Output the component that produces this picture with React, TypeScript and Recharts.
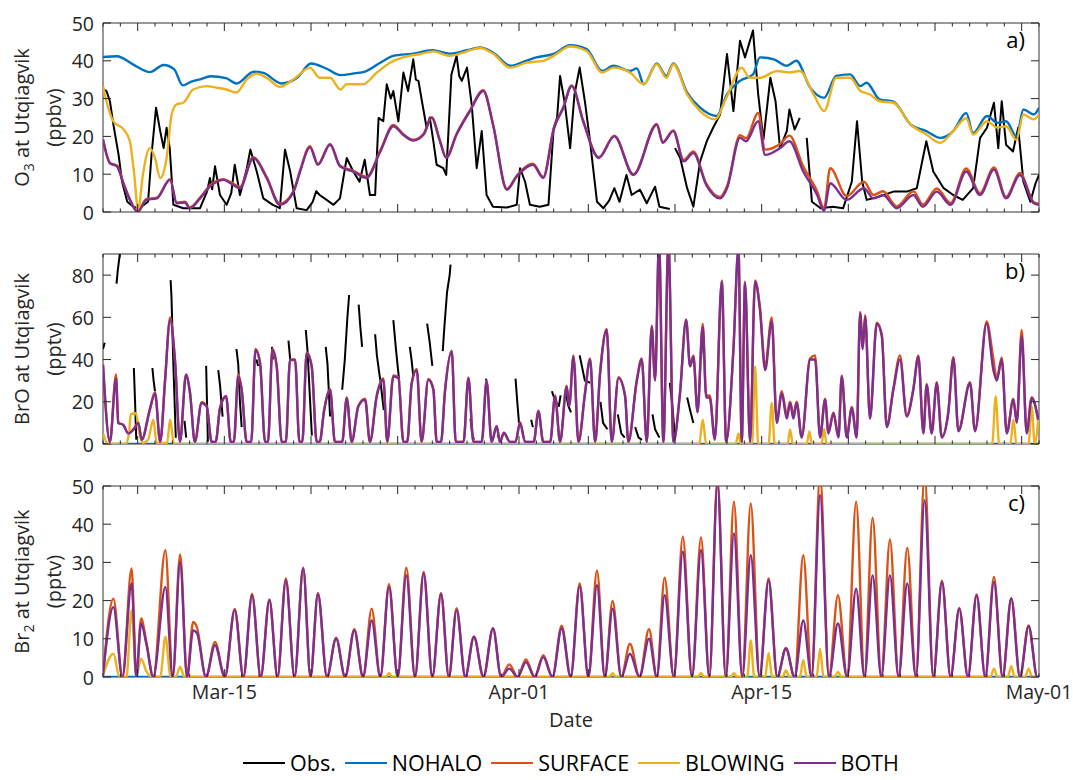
import React from 'react';
import { LineChart, Line, XAxis, YAxis, ReferenceArea } from 'recharts';

type P = [number, number | null];

// x values are day-of-March (Apr-01 = 32, May-01 = 62)

// ---------------- Panel a: O3 (ppbv) ----------------
const o3Obs: P[] = [
  [8, 32.4], [8.2, 32], [8.4, 29.3], [8.6, 23.1], [8.9, 15.1], [9.1, 8], [9.4, 2.7], [9.75, 1.4], [10.1, 1], [10.6, 2.7],
  [10.8, 15.1], [11.06, 27.6], [11.3, 21.4], [11.5, 16.9], [11.67, 22.3], [11.85, 16.9], [12.06, 1.9], [12.63, 1], [13.6, 1],
  [14, 5.4], [14.17, 9], [14.3, 6], [14.46, 12.1], [14.75, 4.5], [15.13, 1.9], [15.4, 5], [15.6, 12.5], [15.9, 4.5],
  [16.3, 11.6], [16.5, 16.5], [16.87, 10.7], [17.25, 3.6], [17.8, 1.9], [18.2, 1], [18.5, 16.5], [18.8, 10.7], [19.17, 1],
  [19.75, 0.5], [20.1, 2.7], [20.3, 5.5], [20.5, 4.5], [20.9, 3.2], [21.3, 1.9], [21.67, 3.6], [22.06, 14.3], [22.44, 10.7],
  [22.8, 8], [23.1, 13.8], [23.4, 4.5], [23.7, 4.5], [23.9, 24.9], [24.17, 24], [24.37, 33.8], [24.6, 30], [24.75, 32],
  [25.04, 24], [25.33, 36.9], [25.6, 32], [25.9, 40.4], [26.05, 35], [26.2, 34.7], [26.4, 29.3], [26.67, 22.3], [26.85, 25],
  [27.06, 18.7], [27.25, 12.5], [27.63, 11.6], [27.8, 9.8], [28.1, 36.4], [28.4, 41.3], [28.55, 36], [28.7, 34.7], [29, 38.2],
  [29.27, 28.5], [29.56, 11.6], [29.85, 21.4], [30.13, 4.5], [30.5, 1.4], [31.3, 1.2], [31.87, 1.9], [32.06, 11.6], [32.35, 8],
  [32.63, 1.9], [33.2, 1.4], [33.7, 1.9], [34, 22.3], [34.2, 25], [34.37, 36], [34.65, 28.5], [34.95, 16.9], [35.2, 31.1],
  [35.5, 38.2], [35.8, 29.3], [36.1, 18.7], [36.5, 2.7], [36.87, 1], [37.2, 3], [37.5, 6.3], [37.8, 2.7], [38.2, 9.8],
  [38.5, 4.5], [38.98, 5.9], [39.37, 2.3], [39.85, 6.7], [40.1, 1.4], [40.7, 0.8], [40.85, null], [41, 16.9], [41.3, 14.3],
  [41.7, 6.3], [42.06, 1.4], [42.45, 13.4], [42.83, 18.7], [43.2, 22.3], [43.6, 25.8], [44, 41.8], [44.37, 26.7], [44.75, 45.3],
  [45.04, 40.9], [45.5, 48], [45.8, 31.1], [46.1, 19.1], [46.5, 35.5], [46.8, 29.3], [47.06, 16.9], [47.45, 21.4], [47.6, 27.1],
  [47.9, 21.8], [48.2, 24.9], [48.4, null], [48.6, 19.6], [48.9, 2.7], [49.4, 1], [50.1, 1.4], [50.7, 1], [51.2, 8], [51.5, 24],
  [51.8, 8], [52.06, 3.2], [52.8, 4.1], [53.6, 5.4], [54.37, 5.4], [54.95, 6.3], [55.3, 14.3], [55.5, 18.7], [55.9, 10.7],
  [56.5, 6.3], [57.05, 4.5], [57.6, 3.2], [58.2, 6.3], [58.6, 19.6], [59, 22.3], [59.4, 28.9], [59.65, 16.9], [59.85, 29.3],
  [60.1, 17.8], [60.5, 16], [60.8, 22.3], [61.1, 8], [61.5, 2.7], [61.8, 7.6], [62, 9.8],
];

const o3Nohalo: P[] = [
  [8, 41], [8.8, 41.2], [9.75, 39], [10.7, 37], [11.5, 38.9], [12.1, 37.8], [12.6, 33.5], [13.1, 34.5], [13.6, 35.1], [14.2, 35.9],
  [15.1, 35.4], [15.7, 34], [16.7, 37.1], [17.25, 36.8], [18.3, 34], [19.2, 35.5], [20, 39.3], [20.9, 37.9], [21.7, 36.2],
  [22.4, 36.6], [23.2, 37.3], [24, 39.5], [24.75, 41.3], [25.9, 41.9], [27, 42.8], [28, 41.9], [29, 42.8], [29.75, 43.5],
  [30.5, 42.2], [31.5, 38.7], [32.4, 40], [33, 40.9], [34, 41.8], [34.95, 44.1], [35.9, 43.1], [36.8, 37.3], [37.45, 38.7],
  [38.4, 37.3], [38.8, 38], [39.2, 33.8], [39.95, 39.3], [40.5, 36], [40.9, 39.3], [41.7, 31.6], [42.45, 27.6], [43.4, 25.4],
  [44, 31.1], [44.75, 34.7], [45.5, 36.4], [45.9, 40.9], [46.7, 40.4], [47.45, 38.7], [48, 40], [48.8, 32.9], [49.6, 30.2],
  [50.3, 36], [51.1, 36.4], [51.7, 33.3], [52.05, 34.2], [52.8, 29.8], [53.6, 29.2], [54.6, 23.1], [55.5, 21.4], [56.3, 19.6],
  [57.05, 21.4], [57.8, 26.2], [58.2, 20.9], [59, 25.4], [59.6, 23.6], [60.1, 24], [60.7, 20], [61.1, 27.1], [61.7, 25.8], [62, 27.6],
];

const o3Blowing: P[] = [
  [8, 33.3], [8.2, 29.3], [8.6, 24], [9.2, 21.8], [9.55, 18.7], [9.8, 10], [10.03, 0.5], [10.3, 9.8], [10.7, 16.9], [11, 14.3],
  [11.3, 9], [11.67, 14.3], [11.96, 25.8], [12.25, 28.5], [12.63, 28.9], [13.2, 32.4], [14, 33.3], [14.55, 32.9], [15.13, 32.4],
  [15.7, 31.6], [16.3, 35.1], [16.87, 36.6], [17.44, 35.5], [18.2, 33.1], [19, 35.1], [19.94, 38.2], [20.5, 35.5], [21.1, 35.5],
  [21.7, 32.4], [22.06, 33.8], [23, 33.8], [23.8, 36.9], [24.56, 39.5], [25.3, 40.9], [26.3, 41.8], [27.06, 42.5], [28, 41.3],
  [29, 42.5], [29.75, 43.4], [30.5, 41.9], [31.5, 38.2], [32.44, 39.5], [33.4, 40], [34, 41.3], [34.95, 43.8], [35.9, 42.6],
  [36.8, 36.9], [37.45, 38.2], [38.4, 36.9], [39.2, 33.8], [39.95, 39.1], [40.5, 35.5], [40.9, 39.1], [41.7, 31.1], [42.45, 26.7],
  [43.3, 24.5], [44, 30.6], [44.85, 38.2], [45.3, 35.5], [45.9, 35.5], [46.9, 37.3], [47.6, 36.9], [48.2, 37.3], [49, 31.1],
  [49.6, 26.7], [50.3, 35.5], [51.1, 35.5], [51.7, 32], [52.25, 31.1], [52.8, 29.3], [53.6, 28.9], [54.6, 23.1], [55.5, 20.5],
  [56.3, 18.3], [57.05, 21.4], [57.8, 24.8], [58.2, 20.5], [59, 24], [59.6, 22.3], [60.1, 22.7], [60.7, 19.1], [61.1, 25.8],
  [61.7, 24.5], [62, 25.8],
];

const o3Both: P[] = [
  [8, 19.1], [8.4, 12.9], [8.8, 12.1], [9.2, 7.2], [9.55, 3.2], [10, 0], [10.5, 3.2], [11.1, 3.6], [11.87, 8.5], [12.25, 2.3],
  [12.73, 2.5], [13, 1], [13.6, 3.6], [14.17, 6.7], [14.94, 8.5], [15.5, 7.2], [15.9, 6.3], [16.67, 14.3], [17.44, 9], [18.2, 1.9],
  [19, 5.4], [19.37, 10.7], [19.94, 17.1], [20.4, 12.5], [21.1, 17.8], [21.67, 12.1], [22.44, 10.7], [23.2, 9], [24, 16],
  [24.75, 22.7], [25.3, 20.5], [25.9, 18.9], [26.5, 20.5], [26.96, 24.9], [27.44, 18.7], [27.8, 14.3], [28.4, 20.5], [29.17, 26.7],
  [29.94, 32], [30.5, 23.1], [31.3, 5.9], [31.87, 9.4], [32.8, 12.5], [33.4, 9], [34, 21.8], [34.56, 27.6], [35.04, 33.3],
  [35.7, 24], [36.6, 14.3], [37.5, 20], [38.6, 9.8], [39.95, 23.1], [40.3, 18.3], [40.9, 21.4], [41.5, 13.4], [42.06, 15.6],
  [42.8, 7.2], [43.6, 3.6], [44, 6.3], [44.75, 19.6], [45.1, 18.7], [45.8, 24], [46.2, 15.1], [47.06, 16.9], [47.6, 18.7],
  [48.4, 10.7], [49.2, 4.5], [49.6, 0.3], [49.95, 7.6], [50.9, 3.2], [51.9, 6.3], [52.45, 3.6], [53, 4.5], [53.8, 1],
  [54.75, 4.5], [55.3, 1.4], [56.1, 5.4], [56.9, 1.9], [57.8, 10.7], [58.6, 4.5], [59.4, 11.2], [60.1, 3.6], [60.9, 9.8],
  [61.7, 2.3], [62, 1.9],
];

const o3Surface: P[] = [
  [8, 19.3], [8.4, 13], [8.8, 12.3], [9.2, 7.4], [9.55, 3.4], [10, 0.2], [10.5, 3.4], [11.1, 3.8], [11.87, 8.7], [12.25, 2.5],
  [12.73, 2.7], [13, 1.2], [13.6, 3.8], [14.17, 7], [14.94, 8.7], [15.5, 7.5], [15.9, 6.6], [16.67, 14.5], [17.44, 9.3], [18.2, 2.2],
  [19, 5.7], [19.37, 11], [19.94, 17.4], [20.4, 12.7], [21.1, 18], [21.67, 12.3], [22.44, 10.9], [23.2, 9.3], [24, 16.3],
  [24.75, 23], [25.3, 20.7], [25.9, 19.1], [26.5, 20.7], [26.96, 25.1], [27.44, 18.9], [27.8, 14.5], [28.4, 20.7], [29.17, 26.9],
  [29.94, 32.2], [30.5, 23.3], [31.3, 6.1], [31.87, 9.6], [32.8, 12.8], [33.4, 9.3], [34, 22], [34.56, 27.8], [35.04, 33.5],
  [35.7, 24.2], [36.6, 14.5], [37.5, 20.2], [38.6, 10], [39.95, 23.3], [40.3, 18.5], [40.9, 21.6], [41.5, 13.8], [42.06, 16],
  [42.8, 7.6], [43.6, 4], [44, 6.8], [44.75, 20.3], [45.1, 19.5], [45.8, 26.2], [46.2, 16.5], [47.06, 18], [47.6, 20.2],
  [48.4, 12], [49.2, 5.5], [49.6, 1], [49.95, 11.6], [50.9, 4.2], [51.9, 8], [52.45, 4.5], [53, 5.5], [53.8, 1.5],
  [54.75, 5.5], [55.3, 2], [56.1, 6.2], [56.9, 2.4], [57.8, 11.5], [58.6, 5], [59.4, 11.8], [60.1, 4], [60.9, 10.3],
  [61.7, 2.6], [62, 2.2],
];

// ---------------- Panel b: BrO (pptv) ----------------
const broObs: P[] = [
  [8, 45], [8.1, 48], [8.15, null], [8.78, 76], [8.85, 82], [9.0, 92], [9.1, 96], [9.2, null], [9.78, 36], [9.85, 20], [9.92, 2],
  [10, null], [10.85, 36], [10.92, 30], [11.0, 25], [11.05, null], [11.9, 77.6], [11.95, 70], [12.05, 40], [12.2, 3], [12.3, null],
  [12.7, 11], [12.8, 3], [12.85, null], [13.95, 37], [14.0, 20], [14.05, 1], [14.1, null], [14.65, 35], [14.75, 28], [14.9, 13],
  [14.95, null], [15.7, 45], [15.8, 38], [15.9, 20], [16.0, 8], [16.05, null], [16.85, 40], [16.95, 37], [17.0, null], [17.75, 46],
  [17.8, 40], [17.85, null], [18.7, 49], [18.8, 40], [18.85, null], [19.7, 54], [19.8, 44], [19.95, 20], [20.05, 4], [20.1, null],
  [20.85, 46], [20.95, 38], [21.1, 13], [21.15, null], [21.8, 25.7], [21.95, 40], [22.1, 60], [22.2, 70.6], [22.25, null],
  [22.75, 66], [22.85, 55], [22.95, 46], [23.0, null], [23.7, 52], [23.8, 42], [24.0, 30], [24.2, 16], [24.25, null],
  [24.75, 58.7], [24.9, 45], [25.1, 28.8], [25.15, null], [25.7, 46], [25.8, 40], [25.9, 32], [25.95, null], [26.7, 57],
  [26.85, 48], [27.0, 37], [27.05, null], [27.6, 44], [27.7, 56], [27.85, 72], [28.0, 80], [28.05, 85], [28.1, null],
  [29.2, 12], [29.3, 5], [29.4, 2], [29.45, null], [30.1, 31], [30.15, 28], [30.2, null], [30.75, 4], [30.85, 3], [30.9, null],
  [31.8, 31], [31.9, 20], [32.0, 10], [32.05, null], [32.7, 11.5], [32.8, 8], [32.85, null], [33.9, 25], [34.1, 20], [34.3, 18],
  [34.4, 23], [34.45, null], [34.7, 24], [34.85, 18], [35.0, 15], [35.05, null], [35.5, 42], [35.6, 38], [35.8, 30], [36.1, 29],
  [36.15, null], [36.7, 20], [36.85, 10], [37.1, 7], [37.15, null], [37.7, 14], [37.9, 5], [38.1, 3], [38.15, null], [38.7, 8],
  [38.9, 3], [39.1, 2], [39.15, null], [39.7, 14], [39.85, 7], [40.1, 3], [40.15, null], [40.7, 29], [40.85, 18], [41.0, 3],
  [41.05, null], [41.7, 22], [41.9, 15], [42.06, 10], [42.1, null], [42.5, 40], [42.6, 52],
];

const broNohalo: P[] = [[8, 0], [62, 0]];

const broBoth: P[] = [
  [8, 37.5], [8.4, 1], [8.75, 31.2], [8.88, 10], [9.17, 9], [9.46, 5], [9.75, 6.8], [10.04, 10], [10.23, 2], [10.7, 16], [11, 24],
  [11.3, 1], [11.58, 30], [11.87, 58.7], [12.15, 40], [12.44, 1], [12.79, 32.8], [13.02, 24], [13.3, 1], [13.69, 19.4], [13.98, 17.8],
  [14.27, 1], [14.5, 1], [14.75, 17], [15.1, 22.5], [15.37, 1], [15.55, 1], [15.8, 32], [16, 25.7], [16.29, 1], [16.55, 1],
  [16.8, 44.6], [17.06, 38.3], [17.35, 1], [17.52, 1], [17.77, 44.6], [18.02, 36.7], [18.31, 1], [18.55, 1], [18.79, 39.8],
  [19.08, 39.8], [19.33, 1], [19.5, 1], [19.75, 43], [20.04, 36.7], [20.33, 1], [20.5, 1], [20.75, 15.4], [21.1, 25.7], [21.38, 1],
  [21.8, 1], [22.06, 21.7], [22.35, 1], [22.73, 17.8], [23.12, 21], [23.4, 1], [23.79, 22.5], [24.17, 30.4], [24.4, 1], [24.75, 32],
  [25.04, 31.2], [25.33, 1], [25.55, 1], [25.81, 28.8], [26.1, 35], [26.38, 1], [26.77, 30.4], [27.06, 25.7], [27.25, 1], [27.5, 1],
  [27.73, 24.9], [28.12, 43.8], [28.35, 1], [28.8, 1], [29.08, 31.2], [29.37, 1], [29.85, 1], [30.13, 29.6], [30.42, 1], [30.71, 8.3],
  [30.9, 1], [31.13, 5.2], [31.48, 1], [31.8, 1], [32.06, 10], [32.35, 1], [32.85, 1], [33.12, 15.4], [33.4, 1], [33.8, 1],
  [34.08, 22.5], [34.37, 1], [34.75, 27.2], [34.9, 18], [35.14, 41.4], [35.43, 1], [35.81, 24], [36.1, 40], [36.39, 1], [36.68, 33.5],
  [37.06, 54], [37.35, 1], [37.74, 31.2], [38.12, 22.5], [38.31, 1], [38.79, 29.6], [39.08, 40], [39.37, 1], [39.66, 55.6], [39.85, 30],
  [40.08, 95], [40.33, 1], [40.62, 95], [40.91, 1], [41.29, 24], [41.64, 58.7], [41.87, 36.7], [42.06, 41.4], [42.3, 15], [42.6, 55.6],
  [42.8, 22], [43.0, 22], [43.3, 2], [43.7, 76.9], [43.95, 1], [44.37, 44.6], [44.66, 92], [44.85, 1], [45.04, 76], [45.33, 1],
  [45.62, 76.9], [45.9, 63.5], [46.2, 35], [46.58, 58], [46.87, 10], [47.16, 24], [47.45, 12], [47.64, 19.4], [47.83, 12], [48.02, 19.4],
  [48.31, 3], [48.79, 40], [49.08, 40], [49.37, 3], [49.66, 21], [49.85, 5], [50.14, 14.6], [50.43, 3], [50.62, 32], [50.91, 3],
  [51.2, 17], [51.48, 3], [51.68, 62], [51.83, 45], [51.97, 60.3], [52.25, 12], [52.64, 57], [52.93, 51], [53.22, 8], [53.6, 25.7],
  [53.98, 40], [54.37, 13], [54.75, 25.7], [55.04, 41.4], [55.33, 5], [55.52, 28], [55.81, 5], [56.1, 28.8], [56.39, 3], [56.77, 15],
  [57.06, 40.6], [57.35, 6], [58.02, 28.8], [58.31, 6], [58.98, 57], [59.37, 35], [59.56, 30], [59.85, 40], [60.14, 5], [60.52, 21],
  [60.72, 10], [61.0, 51], [61.29, 5], [61.58, 21.7], [61.97, 11.5],
];

const broSurface: P[] = [
  [8, 37.5], [8.4, 1], [8.75, 33], [8.88, 10], [9.17, 9], [9.46, 5], [9.75, 6.8], [10.04, 10], [10.23, 2], [10.7, 16.5], [11, 24.5],
  [11.3, 1], [11.58, 30], [11.87, 60], [12.15, 40], [12.44, 1], [12.79, 33], [13.02, 24.5], [13.3, 1], [13.69, 19.8], [13.98, 18],
  [14.27, 1], [14.5, 1], [14.75, 17.2], [15.1, 22.8], [15.37, 1], [15.55, 1], [15.8, 33], [16, 26], [16.29, 1], [16.55, 1],
  [16.8, 45], [17.06, 38.5], [17.35, 1], [17.52, 1], [17.77, 45], [18.02, 37], [18.31, 1], [18.55, 1], [18.79, 40],
  [19.08, 40], [19.33, 1], [19.5, 1], [19.75, 43.5], [20.04, 37], [20.33, 1], [20.5, 1], [20.75, 15.8], [21.1, 26], [21.38, 1],
  [21.8, 1], [22.06, 22], [22.35, 1], [22.73, 18], [23.12, 21.5], [23.4, 1], [23.79, 23], [24.17, 31], [24.4, 1], [24.75, 32.5],
  [25.04, 31.5], [25.33, 1], [25.55, 1], [25.81, 29], [26.1, 35.5], [26.38, 1], [26.77, 30.8], [27.06, 26], [27.25, 1], [27.5, 1],
  [27.73, 25.2], [28.12, 44.2], [28.35, 1], [28.8, 1], [29.08, 31.5], [29.37, 1], [29.85, 1], [30.13, 30], [30.42, 1], [30.71, 8.5],
  [30.9, 1], [31.13, 5.4], [31.48, 1], [31.8, 1], [32.06, 10.3], [32.35, 1], [32.85, 1], [33.12, 15.8], [33.4, 1], [33.8, 1],
  [34.08, 23], [34.37, 1], [34.75, 27.6], [34.9, 18.4], [35.14, 42], [35.43, 1], [35.81, 24.4], [36.1, 40.5], [36.39, 1], [36.68, 34],
  [37.06, 54.5], [37.35, 1], [37.74, 31.6], [38.12, 23], [38.31, 1], [38.79, 30], [39.08, 40.5], [39.37, 1], [39.66, 56], [39.85, 30.5],
  [40.08, 96], [40.33, 1], [40.62, 96], [40.91, 1], [41.29, 24.5], [41.64, 59], [41.87, 37], [42.06, 42], [42.3, 15.5], [42.6, 57],
  [42.8, 23], [43.0, 23], [43.3, 2.5], [43.7, 77.5], [43.95, 1], [44.37, 45], [44.66, 93], [44.85, 1], [45.04, 77], [45.33, 1],
  [45.62, 77.5], [45.9, 65], [46.2, 37], [46.58, 60], [46.87, 11], [47.16, 25], [47.45, 14], [47.64, 20], [47.83, 14], [48.02, 20],
  [48.31, 3.5], [48.79, 40.5], [49.08, 42], [49.37, 3.5], [49.66, 21.5], [49.85, 5.5], [50.14, 15], [50.43, 3.5], [50.62, 32.5], [50.91, 3.5],
  [51.2, 17.5], [51.48, 3.5], [51.68, 62.5], [51.83, 46], [51.97, 61], [52.25, 12.5], [52.64, 57.5], [52.93, 52], [53.22, 8.5], [53.6, 26.5],
  [53.98, 42], [54.37, 13.5], [54.75, 26.2], [55.04, 42], [55.33, 5.5], [55.52, 28.5], [55.81, 5.5], [56.1, 29.3], [56.39, 3.5], [56.77, 15.5],
  [57.06, 41.2], [57.35, 6.5], [58.02, 29.3], [58.31, 6.5], [58.98, 58], [59.37, 40], [59.56, 31], [59.85, 41], [60.14, 5.5], [60.52, 21.5],
  [60.72, 10.5], [61.0, 54], [61.29, 5.5], [61.58, 22.2], [61.97, 10],
];

const broBlowing: P[] = [
  [8, 5], [8.3, 0], [9.3, 0], [9.5, 5], [9.6, 14], [9.9, 14.6], [10.1, 5], [10.3, 0.5], [10.6, 2], [10.9, 11.5], [11.1, 0.5],
  [11.7, 0.5], [11.87, 11.5], [12.1, 0], [42.4, 0], [42.6, 11.5], [42.8, 0], [44.5, 0], [44.66, 5], [44.8, 0], [45.45, 0],
  [45.62, 36.7], [45.8, 0], [46.4, 0], [46.58, 19.4], [46.75, 0], [47.5, 0], [47.64, 6.8], [47.8, 0], [48.6, 0], [48.75, 6],
  [48.9, 0], [49.45, 0], [49.6, 7], [49.75, 0], [59.3, 0], [59.5, 22.5], [59.7, 0], [60.35, 0], [60.52, 11.5], [60.7, 0],
  [61.4, 0], [61.58, 17.8], [61.75, 0], [61.97, 13],
];

// ---------------- Panel c: Br2 (pptv) ----------------
const br2Nohalo: P[] = [[8, 0], [62, 0]];

const br2Both: P[] = [
  [8, 0.5], [8.6, 18.3], [9.12, 0], [9.65, 24.5], [9.92, 0], [10.2, 14], [10.5, 8.7], [10.9, 0], [11.6, 23.6], [12.02, 0],
  [12.45, 30.1], [12.85, 0], [13.2, 12.2], [13.42, 11.5], [13.94, 0], [14.46, 8.3], [15.03, 0], [15.6, 17.5], [16.1, 0],
  [16.6, 21.4], [17.1, 0], [17.6, 20.1], [18.07, 0], [18.55, 25.3], [19.05, 0], [19.55, 28.4], [19.97, 0], [20.4, 21.8],
  [20.92, 0], [21.45, 10], [21.97, 0], [22.5, 12.2], [23, 0], [23.5, 14.8], [24, 0], [24.5, 23.6], [25, 0], [25.5, 26.6],
  [26, 0], [26.5, 27.1], [27, 0], [27.5, 21.8], [27.95, 0], [28.4, 17.5], [28.9, 0], [29.4, 10.5], [29.95, 0], [30.5, 12.7],
  [30.97, 0], [31.44, 2.2], [31.92, 0], [32.4, 3.9], [32.9, 0], [33.4, 5.2], [33.93, 0], [34.46, 12.7], [34.98, 0], [35.5, 23.8],
  [36, 0], [36.5, 24], [36.95, 0], [37.4, 17.9], [37.9, 0], [38.4, 6.1], [38.95, 0], [39.5, 10], [39.95, 0], [40.4, 21.4],
  [40.93, 0], [41.45, 32.8], [41.98, 0], [42.5, 33.2], [42.98, 0], [43.45, 50.5], [43.93, 0], [44.4, 37.6], [44.88, 0],
  [45.37, 31.9], [45.88, 0], [46.4, 25.3], [46.9, 0], [47.4, 7.4], [47.9, 0], [48.4, 14.8], [48.88, 0], [49.37, 47.6], [49.88, 0],
  [50.4, 14], [50.93, 0], [51.45, 23.1], [51.93, 0], [52.4, 26.6], [52.9, 0], [53.4, 26.6], [53.9, 0], [54.4, 24.5], [54.9, 0],
  [55.4, 46.3], [55.9, 0], [56.4, 24.9], [56.9, 0], [57.4, 17.9], [57.9, 0], [58.4, 21.4], [58.9, 0], [59.4, 24.9], [59.9, 0],
  [60.4, 20.5], [60.9, 0], [61.4, 13.3], [61.9, 0], [62, 0],
];

const br2Surface: P[] = [
  [8, 0.5], [8.6, 20.5], [9.12, 0], [9.65, 28.4], [9.92, 0], [10.2, 15.3], [10.5, 9.2], [10.9, 0], [11.6, 33.2], [12.02, 0],
  [12.45, 32.1], [12.85, 0], [13.2, 14.4], [13.42, 13], [13.94, 0], [14.46, 9.2], [15.03, 0], [15.6, 17.8], [16.1, 0],
  [16.6, 21.8], [17.1, 0], [17.6, 20.3], [18.07, 0], [18.55, 25.8], [19.05, 0], [19.55, 28.6], [19.97, 0], [20.4, 22],
  [20.92, 0], [21.45, 10.3], [21.97, 0], [22.5, 12.5], [23, 0], [23.5, 17.9], [24, 0], [24.5, 24.3], [25, 0], [25.5, 28.6],
  [26, 0], [26.5, 27.5], [27, 0], [27.5, 22], [27.95, 0], [28.4, 18], [28.9, 0], [29.4, 10.6], [29.95, 0], [30.5, 12.8],
  [30.97, 0], [31.44, 3.3], [31.92, 0], [32.4, 4.6], [32.9, 0], [33.4, 5.7], [33.93, 0], [34.46, 13.4], [34.98, 0], [35.5, 24.5],
  [36, 0], [36.5, 27.8], [36.95, 0], [37.4, 19.9], [37.9, 0], [38.4, 8.7], [38.95, 0], [39.5, 12.5], [39.95, 0], [40.4, 26],
  [40.93, 0], [41.45, 36.7], [41.98, 0], [42.5, 36.5], [42.98, 0], [43.45, 52], [43.93, 0], [44.4, 45.9], [44.88, 0],
  [45.37, 45.4], [45.88, 0], [46.4, 25.8], [46.9, 0], [47.4, 7.6], [47.9, 0], [48.4, 31.9], [48.88, 0], [49.37, 53], [49.88, 0],
  [50.4, 21.4], [50.93, 0], [51.45, 45.9], [51.93, 0], [52.4, 41.7], [52.9, 0], [53.4, 36], [53.9, 0], [54.4, 33.8], [54.9, 0],
  [55.4, 53], [55.9, 0], [56.4, 25.2], [56.9, 0], [57.4, 18.1], [57.9, 0], [58.4, 21.6], [58.9, 0], [59.4, 26.2], [59.9, 0],
  [60.4, 20.7], [60.9, 0], [61.4, 13.5], [61.9, 0], [62, 0],
];

const br2Blowing: P[] = [
  [8, 0.5], [8.6, 6.1], [8.95, 0], [9.35, 0], [9.65, 17.5], [9.92, 0.3], [10.2, 4.8], [10.5, 1.5], [10.8, 0], [11.3, 0],
  [11.6, 10.5], [11.9, 0], [12.2, 0], [12.45, 2.6], [12.7, 0], [24.3, 0], [24.5, 1], [24.7, 0], [37.2, 0], [37.4, 1], [37.6, 0],
  [42.3, 0], [42.5, 1], [42.7, 0], [44.2, 0], [44.4, 1], [44.6, 0], [45.17, 0], [45.37, 9.6], [45.57, 0], [46.2, 0], [46.4, 6.3],
  [46.6, 0], [47.2, 0], [47.4, 1.7], [47.6, 0], [48.2, 0], [48.4, 4.4], [48.6, 0], [49.17, 0], [49.37, 7.4], [49.57, 0],
  [50.2, 0], [50.4, 1.3], [50.6, 0], [59.2, 0], [59.4, 2.2], [59.6, 0], [60.2, 0], [60.4, 2.8], [60.6, 0], [61.2, 0],
  [61.4, 2.2], [61.6, 0], [62, 0],
];

// ---------------- axes ----------------
const dayTicks: number[] = Array.from({ length: 55 }, (_, i) => 8 + i);
const majorDayTicks = [10, 15, 20, 25, 32, 36, 41, 46, 51, 56, 61];
const dateTickLabels: Record<number, string> = { 15: 'Mar-15', 32: 'Apr-01', 46: 'Apr-15', 62: 'May-01' };
const o3Ticks = [0, 10, 20, 30, 40, 50];
const broTicks = [0, 20, 40, 60, 80];
const br2Ticks = [0, 10, 20, 30, 40, 50];

const seriesNames = ['Obs.', 'NOHALO', 'SURFACE', 'BLOWING', 'BOTH'];

// ---------------- styles ----------------
const FONT = '"Open Sans", "Liberation Sans", sans-serif';
const TXT = '#262626';
const COLORS = ['#000000', '#0072BD', '#D95319', '#EDB120', '#7E2F8E'];
const PAGE_W = 1073;
const PAGE_H = 780;
const PLOT_L = 103;
const PLOT_W = 936;
const M_TOP = 12;
const X_H = 32;

const toRows = (pts: P[]) => pts.map(([d, v]) => ({ d, v }));

type PanelProps = {
  plotTop: number;
  plotH: number;
  yMax: number;
  yTicks: number[];
  series: P[][];
  showDates: boolean;
};

function Panel({ plotTop, plotH, yMax, yTicks, series, showDates }: PanelProps) {
  const chartH = M_TOP + plotH + X_H;
  const bottomY = M_TOP + plotH;
  const XTick = (p: any) => {
    const x = p.x;
    const v = p.payload?.value;
    const len = majorDayTicks.includes(v) ? 8 : 3.5;
    return (
      <g>
        <line x1={x} x2={x} y1={bottomY} y2={bottomY - len} stroke={TXT} strokeWidth={1} />
        <line x1={x} x2={x} y1={M_TOP} y2={M_TOP + len} stroke={TXT} strokeWidth={1} />
        {showDates && dateTickLabels[v] ? (
          <text x={x} y={bottomY + 22} textAnchor="middle" fontSize={19.5} fill={TXT} fontFamily={FONT}>
            {dateTickLabels[v]}
          </text>
        ) : null}
      </g>
    );
  };
  const YTick = (p: any) => {
    const y = p.y;
    const v = p.payload?.value;
    return (
      <g>
        <line x1={PLOT_L} x2={PLOT_L + 8} y1={y} y2={y} stroke={TXT} strokeWidth={1} />
        <line x1={PLOT_L + PLOT_W} x2={PLOT_L + PLOT_W - 8} y1={y} y2={y} stroke={TXT} strokeWidth={1} />
        <text x={PLOT_L - 9} y={y} textAnchor="end" dominantBaseline="central" fontSize={19.5} fill={TXT} fontFamily={FONT}>
          {v}
        </text>
      </g>
    );
  };
  const widths = [2, 2.4, 2.4, 2.4, 2.4];
  return (
    <div style={{ position: 'absolute', left: 0, top: plotTop - M_TOP, width: PAGE_W, height: chartH }}>
      <LineChart
        width={PAGE_W}
        height={chartH}
        margin={{ top: M_TOP, right: PAGE_W - PLOT_L - PLOT_W, bottom: 0, left: 0 }}
      >
        <XAxis
          dataKey="d"
          type="number"
          domain={[8, 62]}
          allowDataOverflow
          ticks={dayTicks}
          interval={0}
          tick={XTick}
          tickLine={false}
          axisLine={false}
          tickSize={0}
          tickMargin={0}
          height={X_H}
        />
        <YAxis
          type="number"
          domain={[0, yMax]}
          allowDataOverflow
          ticks={yTicks}
          interval={0}
          tick={YTick}
          tickLine={false}
          axisLine={false}
          tickSize={0}
          tickMargin={0}
          width={PLOT_L}
        />
        <ReferenceArea x1={8} x2={62} y1={0} y2={yMax} fill="none" fillOpacity={0} stroke="#333333" strokeWidth={1} ifOverflow="visible" />
        {series.map((pts, i) => (
          <Line
            key={seriesNames[i]}
            name={seriesNames[i]}
            data={toRows(pts)}
            dataKey="v"
            type={i === 0 ? 'linear' : 'monotone'}
            stroke={COLORS[i]}
            strokeWidth={widths[i]}
            strokeLinejoin="round"
            dot={false}
            activeDot={false}
            connectNulls={false}
            isAnimationActive={false}
          />
        ))}
      </LineChart>
    </div>
  );
}

function YLabel({ cx, cy, first, sub, rest, unit }: { cx: number; cy: number; first: string; sub?: string; rest: string; unit: string }) {
  return (
    <g>
      <g transform={`translate(${cx},${cy}) rotate(-90)`}>
        <text x={0} y={0} textAnchor="middle" fontSize={20} fill={TXT} fontFamily={FONT}>
          <tspan>{first}</tspan>
          {sub ? (
            <tspan fontSize={14} dy={5}>
              {sub}
            </tspan>
          ) : null}
          <tspan dy={sub ? -5 : 0}>{rest}</tspan>
        </text>
      </g>
      <g transform={`translate(${cx + 32},${cy}) rotate(-90)`}>
        <text x={0} y={0} textAnchor="middle" fontSize={20} fill={TXT} fontFamily={FONT}>
          {unit}
        </text>
      </g>
    </g>
  );
}

export default function App() {
  return (
    <div
      style={{
        position: 'fixed',
        left: 0,
        top: 0,
        width: PAGE_W,
        height: PAGE_H,
        overflow: 'hidden',
        fontFamily: FONT,
        background: '#fff',
      }}
    >
      <Panel plotTop={23} plotH={189} yMax={50} yTicks={o3Ticks} series={[o3Obs, o3Nohalo, o3Surface, o3Blowing, o3Both]} showDates={false} />
      <Panel plotTop={254} plotH={190} yMax={90} yTicks={broTicks} series={[broObs, broNohalo, broSurface, broBlowing, broBoth]} showDates={false} />
      <Panel plotTop={486} plotH={191} yMax={50} yTicks={br2Ticks} series={[[], br2Nohalo, br2Surface, br2Blowing, br2Both]} showDates={true} />
      <svg width={PAGE_W} height={PAGE_H} style={{ position: 'absolute', left: 0, top: 0, pointerEvents: 'none' }}>
        <YLabel cx={29} cy={117.5} first="O" sub="3" rest=" at Utqiagvik" unit="(ppbv)" />
        <YLabel cx={29} cy={349} first="BrO at Utqiagvik" rest="" unit="(pptv)" />
        <YLabel cx={29} cy={581.5} first="Br" sub="2" rest=" at Utqiagvik" unit="(pptv)" />
        <text x={1025} y={48} textAnchor="end" fontSize={22} fill="#000" fontFamily={FONT}>a)</text>
        <text x={1025} y={279} textAnchor="end" fontSize={22} fill="#000" fontFamily={FONT}>b)</text>
        <text x={1025} y={511} textAnchor="end" fontSize={22} fill="#000" fontFamily={FONT}>c)</text>
        <text x={PLOT_L + PLOT_W / 2} y={727} textAnchor="middle" fontSize={20} fill={TXT} fontFamily={FONT}>Date</text>
      </svg>
      <div
        style={{
          position: 'absolute',
          left: PLOT_L,
          top: 748,
          width: PLOT_W,
          height: 30,
          display: 'flex',
          justifyContent: 'center',
          alignItems: 'center',
          fontSize: 21.5,
          lineHeight: '28px',
          fontFamily: FONT,
          color: '#000',
          whiteSpace: 'nowrap',
        }}
      >
        {seriesNames.map((n, i) => (
          <div key={n} style={{ display: 'flex', alignItems: 'center', marginRight: i < 4 ? 9 : 0 }}>
            <div style={{ width: 42, height: 2.5, background: COLORS[i], marginRight: 5 }} />
            <span>{n}</span>
          </div>
        ))}
      </div>
    </div>
  );
}
